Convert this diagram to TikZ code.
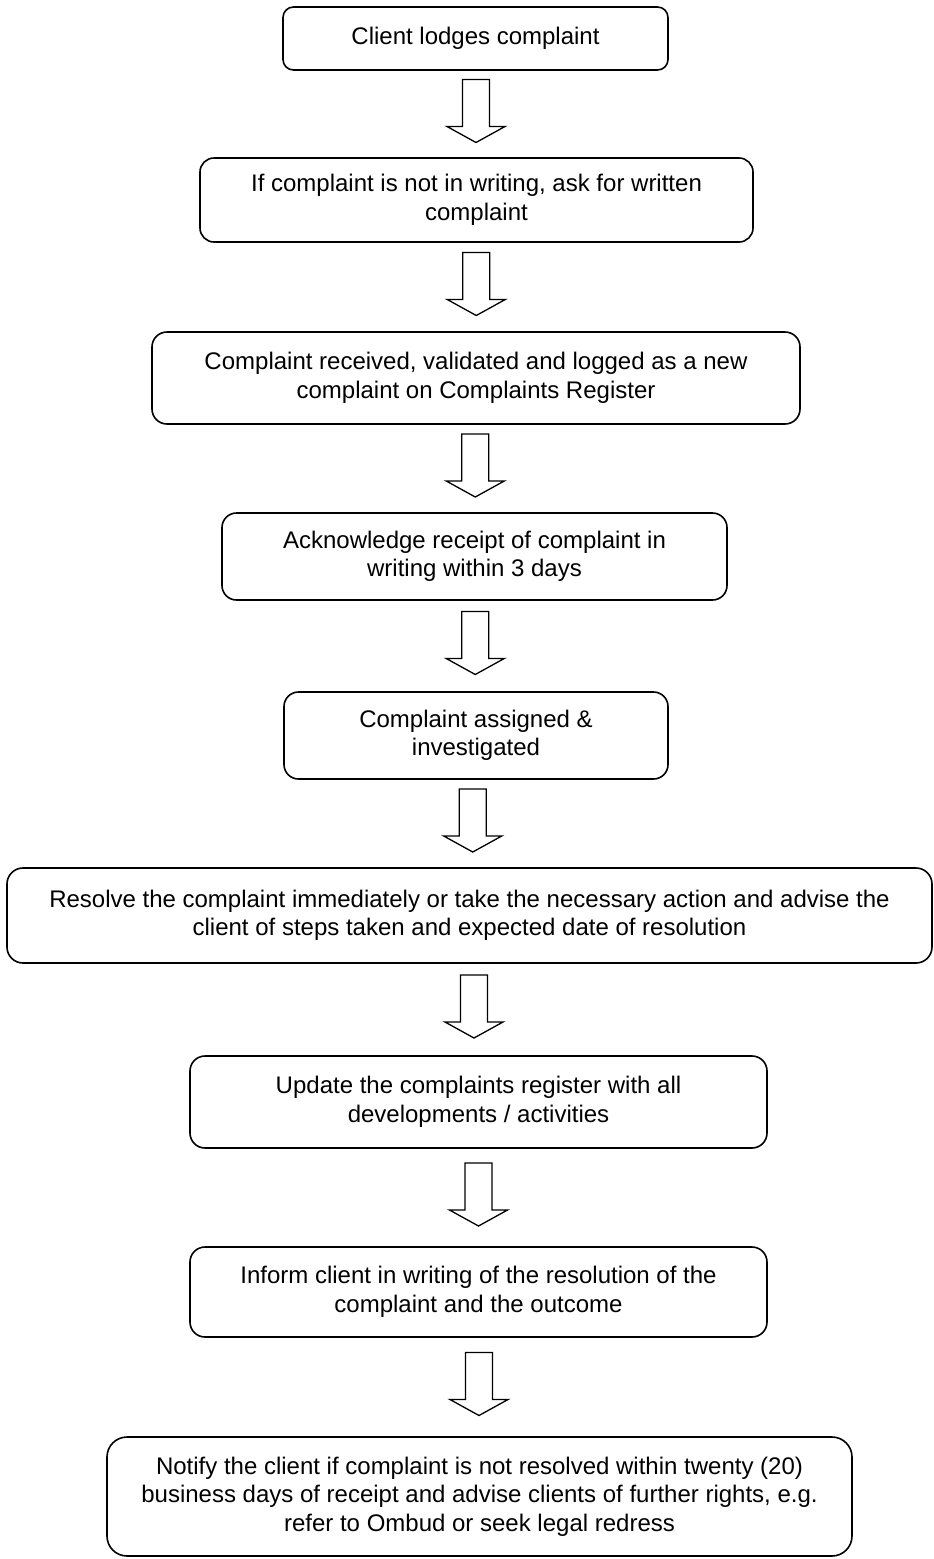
\documentclass[tikz,border=0pt]{standalone}
\usepackage{fontspec}
\setmainfont{Liberation Sans}
\usetikzlibrary{calc}
\tikzset{
  stepbox/.style={draw, line width=1.6pt, align=center, inner sep=0pt,
    font=\fontsize{24}{28.5}\selectfont},
  blk/.style={draw, line width=1.3pt, line join=miter, fill=white},
}
\newcommand{\blockarrow}[2]{%
  \draw[blk] ($(#1.south)!0.5!(#2.north)$) ++(-13.5,-34.5) -- ++(0,47) -- ++(-15.5,0)
    -- ++(29,16) -- ++(29,-16) -- ++(-15.5,0) -- ++(0,-47) -- cycle;
}
\begin{document}
\begin{tikzpicture}[x=1pt,y=-1pt]
\fill[white] (0,0) rectangle (934,1559);
\useasboundingbox (0,0) rectangle (934,1559);

\node[stepbox, minimum width=385pt, minimum height=63pt, rounded corners=10.5pt] (b1) at (475.5,38.5)
  {Client lodges complaint};
\node[stepbox, minimum width=553pt, minimum height=84pt, rounded corners=14pt] (b2) at (476.5,200)
  {If complaint is not in writing, ask for written\\complaint};
\node[stepbox, minimum width=648pt, minimum height=92pt, rounded corners=15pt] (b3) at (476,378)
  {Complaint received, validated and logged as a new\\complaint on Complaints Register};
\node[stepbox, minimum width=505pt, minimum height=87pt, rounded corners=14.5pt] (b4) at (474.5,556.5)
  {Acknowledge receipt of complaint in\\writing within 3 days};
\node[stepbox, minimum width=384pt, minimum height=87pt, rounded corners=14.5pt] (b5) at (476,735.5)
  {Complaint assigned \&\\investigated};
\node[stepbox, minimum width=925pt, minimum height=95pt, rounded corners=16pt] (b6) at (469.5,915.5)
  {Resolve the complaint immediately or take the necessary action and advise the\\client of steps taken and expected date of resolution};
\node[stepbox, minimum width=577pt, minimum height=92pt, rounded corners=15pt] (b7) at (478.5,1102)
  {Update the complaints register with all\\developments / activities};
\node[stepbox, minimum width=577pt, minimum height=90pt, rounded corners=15pt] (b8) at (478.5,1292)
  {Inform client in writing of the resolution of the\\complaint and the outcome};
\node[stepbox, minimum width=745pt, minimum height=119pt, rounded corners=20pt] (b9) at (479.5,1496.5)
  {Notify the client if complaint is not resolved within twenty (20)\\business days of receipt and advise clients of further rights, e.g.\\refer to Ombud or seek legal redress};

\blockarrow{b1}{b2}
\blockarrow{b2}{b3}
\blockarrow{b3}{b4}
\blockarrow{b4}{b5}
\blockarrow{b5}{b6}
\blockarrow{b6}{b7}
\blockarrow{b7}{b8}
\blockarrow{b8}{b9}
\end{tikzpicture}
\end{document}
